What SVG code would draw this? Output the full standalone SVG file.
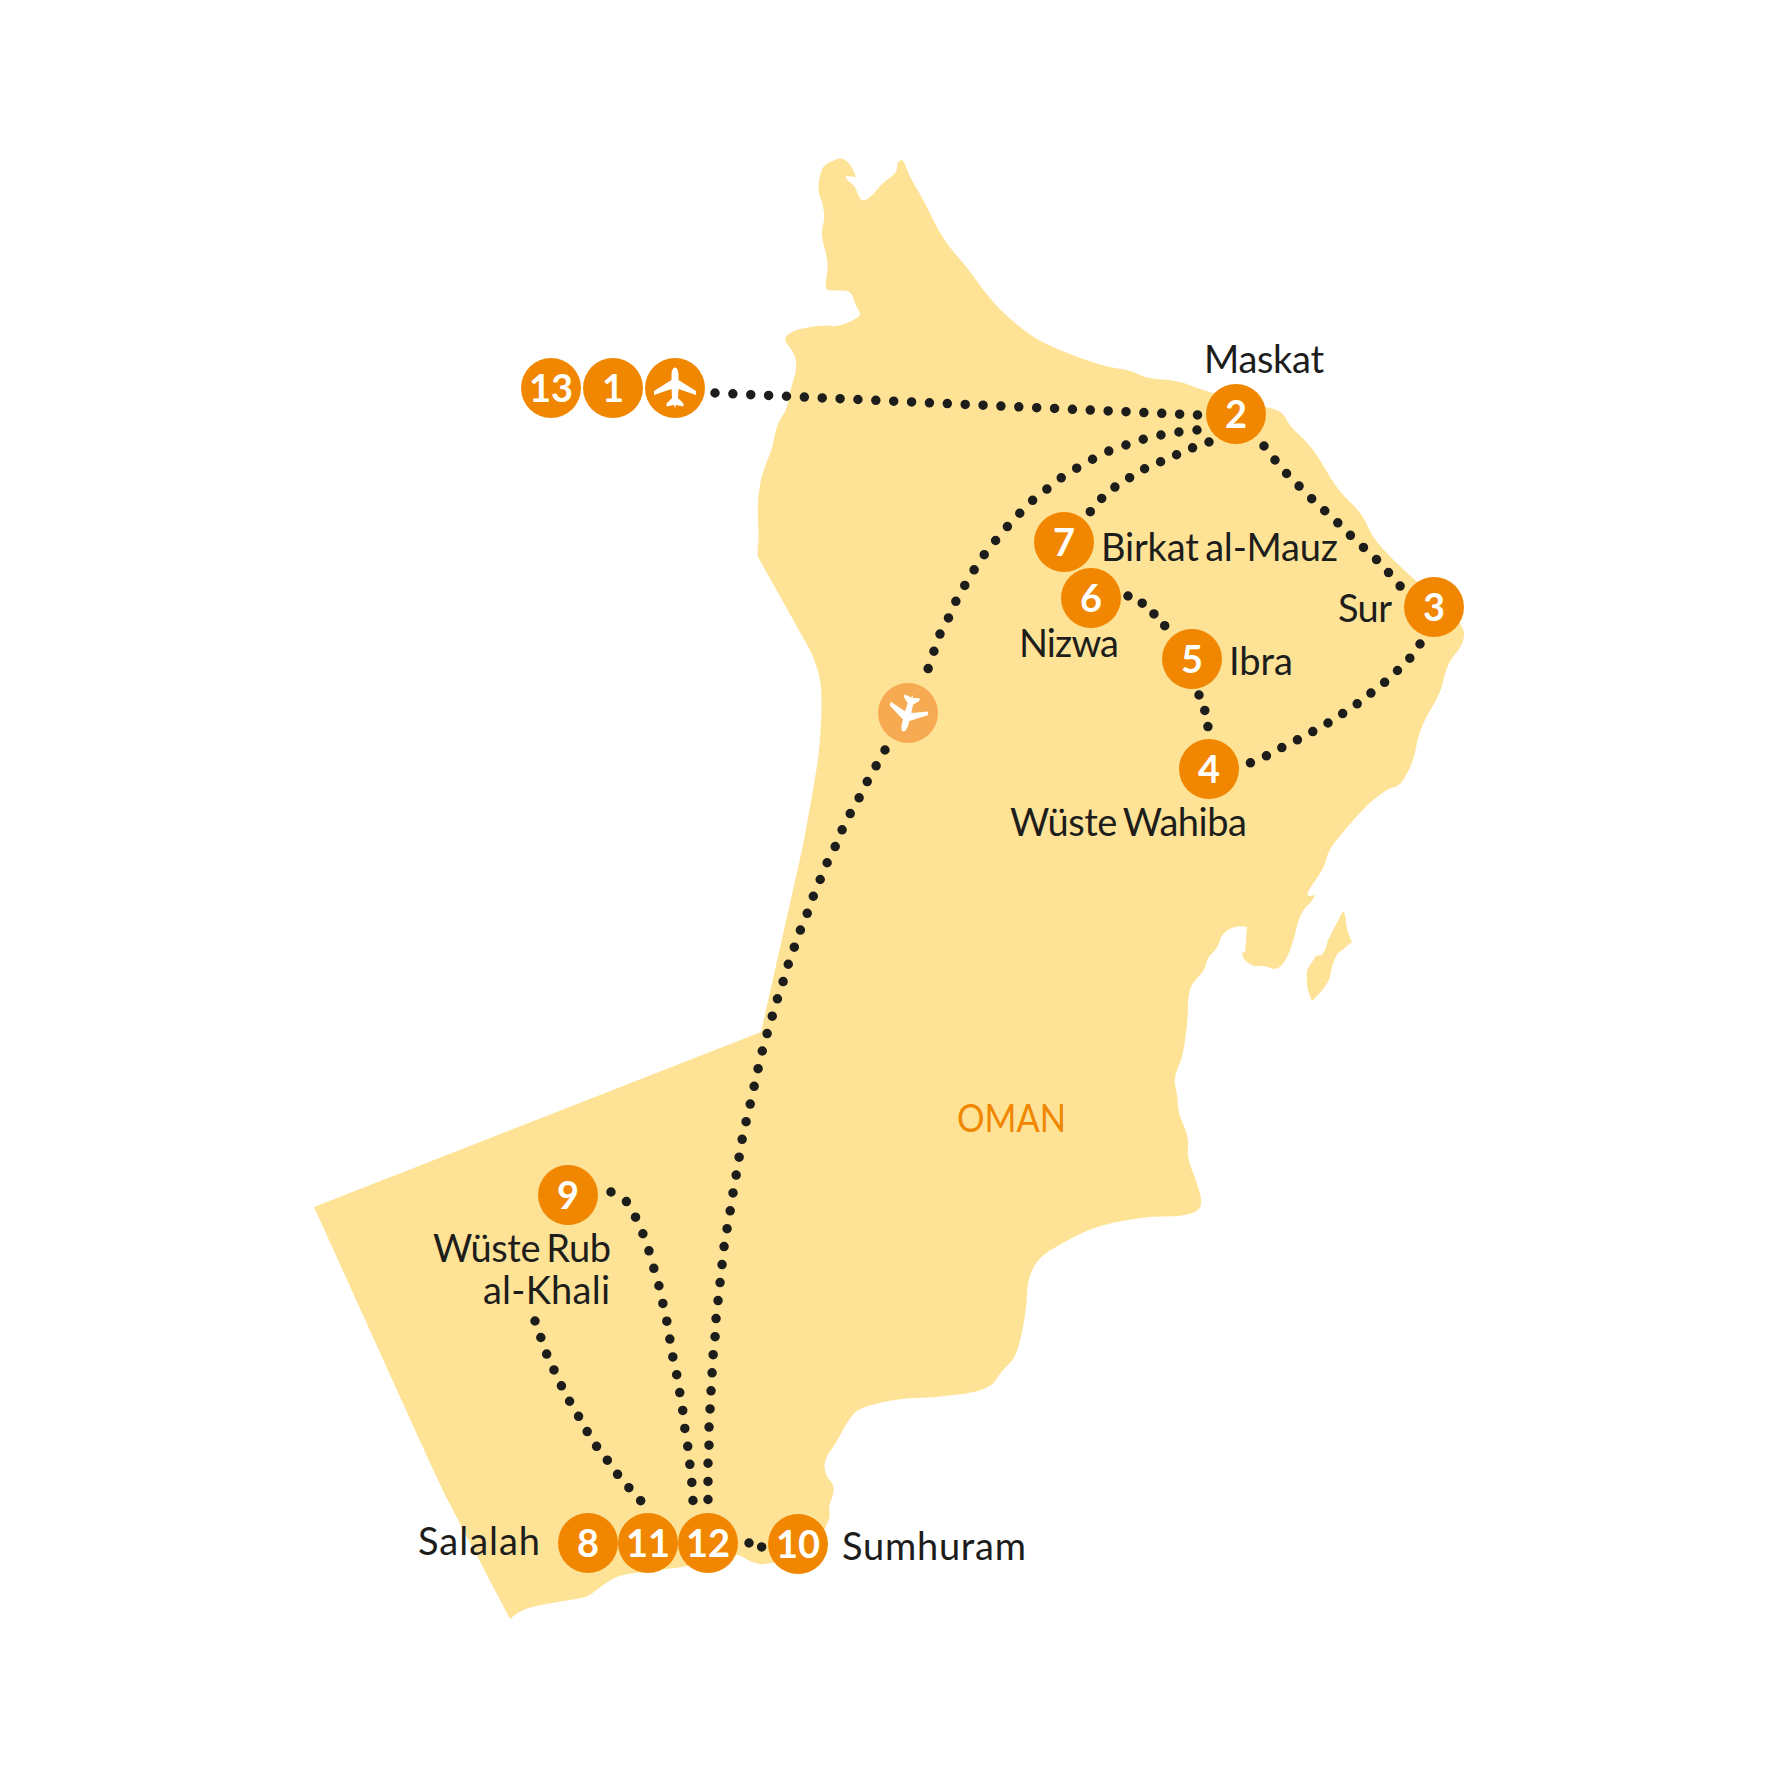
<svg xmlns="http://www.w3.org/2000/svg" xmlns:xlink="http://www.w3.org/1999/xlink" width="1778" height="1778" viewBox="0 0 1778 1778">
<style>
.land{fill:#fee397}
.route{fill:none;stroke:#1d1d1b;stroke-width:9.5;stroke-linecap:round;stroke-linejoin:round;stroke-dasharray:0 18}
.pin{fill:#f18700}
.pin-soft{fill:#f6ab52}
.num{font-family:"Lato","Open Sans",sans-serif;font-size:38px;font-weight:700;fill:#fff;text-anchor:middle}
.lbl{font-family:"Lato","Open Sans",sans-serif;font-size:38px;fill:#1d1d1b;word-spacing:-3px}
.region{font-family:"Lato","Open Sans",sans-serif;font-size:38px;font-kerning:none;fill:#f18700}
.plane{fill:#fff}
</style>
<defs>
<path id="plane" d="M0,-20.5C2,-20.5 3.5,-17 3.5,-13V-8L21,3V7L3.5,1L3,10L8.5,15.5V18.5L1,17L0,20L-1,17L-8.5,18.5V15.5L-3,10L-3.5,1L-21,7V3L-3.5,-8V-13C-3.5,-17 -2,-20.5 0,-20.5Z"/>
</defs>
<g id="map">
<path class="land" d="M314,1207L761,1032L802,850Q815,782 818.5,755Q821,730 821.5,710Q822,690 819.5,677.5Q817,665 810,650L758,557Q757,553 758,545Q759,537 758,518.5Q757,500 760,485Q763,470 767.5,460Q772,450 774.5,436.5Q777,423 782,416.5Q787,410 788.5,400Q790,390 793.5,380Q797,370 796,361.5Q795,353 789,346.5Q783,340 786.5,336Q790,332 798.5,329.5Q807,327 817.5,326Q828,325 832.5,326Q837,327 847.5,322.5Q858,318 859.5,315.5Q861,313 858,309Q855,305 853.5,299Q852,293 848.5,291.5Q845,290 836,290.5Q827,291 826,288Q825,285 827,274Q829,263 824.5,248Q820,233 823,225Q826,217 822,202Q816,190 820,176Q822,163 834,160.5Q840,157 845,160Q850,163 853,170Q855,174 856,177L846,176Q845,178 851,183Q855,186 857,192Q859,198 862,200Q865,201 869,198Q873,195 877.5,189Q882,183 889.5,178Q897,173 897,167.5Q897,162 900,160.5Q903,158 906.5,168Q910,178 916,187.5Q922,197 932.5,218.5Q943,240 955,253.5Q967,267 975,278.5Q983,290 991.5,300Q1000,310 1011.5,320Q1023,330 1033,336.5Q1043,343 1060,350Q1077,357 1092,362Q1107,367 1118.5,368.5Q1130,370 1139,374.5Q1148,379 1162.5,379.5Q1177,380 1192,386Q1207,392 1237,399.5Q1267,407 1275,409.5Q1283,412 1286.5,419.5Q1290,427 1301.5,437Q1313,447 1325,468.5Q1337,490 1349.5,501.5Q1362,513 1367,525Q1372,537 1382.5,548.5Q1393,560 1404,570Q1415,580 1439,601Q1466,626 1464,635Q1464,645 1453.5,656Q1446,667 1443.5,680Q1441,693 1431,709Q1421,725 1417,742.5Q1413,765 1406,775Q1401,787 1391,788Q1382,792 1367.5,805Q1353,820 1340.5,835Q1328,850 1326.5,858.5Q1325,867 1316,879.5Q1307,892 1307.5,894.5Q1308,897 1315,895Q1313,901 1306,907Q1300,913 1296,930Q1292,947 1287.5,956Q1283,965 1279,967.5Q1275,970 1269,967.5Q1263,965 1259,966Q1255,967 1249,963.5Q1243,960 1242,953L1245,952L1247,927Q1237,925 1229.5,929Q1222,933 1220,940.5Q1218,948 1212.5,953Q1207,958 1206,964Q1205,970 1198.5,976.5Q1192,983 1190,990Q1188,997 1188,1007Q1188,1017 1185.5,1037Q1183,1057 1178,1067.5Q1173,1078 1175.5,1087.5Q1178,1097 1178,1105Q1178,1113 1183.5,1125Q1189,1137 1188,1147.5Q1187,1158 1191,1167.5Q1195,1177 1199,1190Q1203,1203 1200,1207.5Q1197,1212 1187,1214.5Q1177,1217 1163.5,1216.5Q1150,1216 1125,1220.5Q1100,1225 1086.5,1231Q1073,1237 1056,1247Q1040,1255 1033.5,1267.5Q1027,1280 1027,1293.5Q1027,1307 1022,1332Q1017,1357 1009.5,1363.5Q1002,1370 995.5,1380.5Q989,1391 958.5,1394.5Q928,1398 915,1398Q902,1398 881.5,1402.5Q861,1407 855.5,1412Q850,1417 843,1430Q836,1443 830,1451.5Q824,1460 824.5,1467.5Q825,1475 830.5,1481Q836,1487 832,1497.5Q828,1508 829.5,1512.5Q831,1517 825,1528.5Q820,1540 805,1550Q790,1560 780,1561.5Q770,1563 765,1564Q760,1565 753.5,1562.5Q747,1560 742,1556.5Q737,1553 718,1559Q700,1565 666.5,1569Q633,1573 625,1574.5Q617,1576 608.5,1581.5Q600,1587 594,1592Q588,1597 579,1598.5Q570,1600 555,1602.5Q540,1605 530,1607.5Q520,1610 510,1619L445,1495L425,1452Z"/>
<path class="land" d="M1343,911Q1346,915 1346,923Q1347,932 1352,942Q1345,948 1338,953Q1332,962 1330,977Q1326,988 1312,1001Q1306,988 1307,980Q1306,972 1308,968L1316,956L1322,955Q1326,950 1328,940Z"/>
<text class="region" x="957" y="1132" textLength="109" lengthAdjust="spacingAndGlyphs">OMAN</text>
</g>
<g id="connectors">
<path class="route" pathLength="486.5" d="M715,393L1198,415"/>
<path class="route" pathLength="378.5" d="M1197,430L1179,432L1161,435L1144,439L1126,445L1109,451L1093,459L1077,468L1061,478L1047,489L1033,500L1020,513L1007,527L996,540L984,555L974,570L965,585L956,601L948,619L940,634L934,651L928,669"/>
<path class="route" pathLength="774.5" d="M885,750L876,766L867,782L859,798L850,814L842,830L835,847L827,863L820,880L813,897L807,914L800,931L794,948L788,965L783,982L777,1000L772,1017L767,1034L762,1052L758,1069L754,1087L750,1105L746,1122L742,1140L739,1158L736,1176L733,1193L730,1212L727,1229L724,1247L722,1265L720,1283L718,1301L716,1319L715,1338L713,1356L712,1374L711,1392L710,1410L709,1428L709,1446L708,1464L708,1482L708,1500"/>
<path class="route" pathLength="144.5" d="M1209,442L1192,448L1176,455L1160,462L1144,469L1129,478L1115,487L1101,499L1090,512"/>
<path class="route" pathLength="216.5" d="M1264,446L1275,460L1287,474L1299,486L1312,499L1325,511L1338,523L1350,535L1363,547L1376,559L1388,572L1400,586L1412,600"/>
<path class="route" pathLength="216.5" d="M1420,644L1410,658L1398,670L1385,682L1371,693L1357,704L1342,714L1328,723L1312,732L1297,740L1281,748L1266,756L1250,763"/>
<path class="route" pathLength="54.5" d="M1128,596L1142,603L1154,614L1165,626"/>
<path class="route" pathLength="36.5" d="M1199,695L1205,711L1208,727"/>
<path class="route" pathLength="324.5" d="M611,1192L627,1202L636,1218L643,1234L649,1251L654,1269L659,1286L663,1304L667,1322L670,1340L673,1358L677,1376L680,1394L683,1412L685,1430L688,1448L690,1466L692,1484L693,1501"/>
<path class="route" pathLength="216.5" d="M535,1321L541,1338L547,1355L554,1370L562,1387L570,1402L579,1417L588,1433L597,1447L608,1461L618,1475L630,1489L641,1501"/>
<path class="route" pathLength="18.5" d="M749,1543L762,1547"/>
</g>
<g id="node-13"><circle class="pin" cx="551" cy="388" r="30"/><text class="num" x="551" y="402">13</text></g>
<g id="node-1"><circle class="pin" cx="613" cy="388" r="30"/><text class="num" x="613" y="402">1</text></g>
<g id="node-plane-out"><circle class="pin" cx="675" cy="388" r="30"/><use class="plane" xlink:href="#plane" href="#plane" x="675" y="388"/></g>
<g id="node-plane-in"><circle class="pin-soft" cx="908" cy="713" r="30"/><use class="plane" href="#plane" xlink:href="#plane" transform="translate(908 713) rotate(194.5) scale(.93)"/></g>
<g id="node-2"><circle class="pin" cx="1236" cy="414" r="30"/><text class="num" x="1236" y="428">2</text><text class="lbl" x="1204" y="373" textLength="120">Maskat</text></g>
<g id="node-3"><circle class="pin" cx="1434" cy="607" r="30"/><text class="num" x="1434" y="621">3</text><text class="lbl" x="1338" y="622" textLength="54">Sur</text></g>
<g id="node-4"><circle class="pin" cx="1209" cy="769" r="30"/><text class="num" x="1209" y="783">4</text><text class="lbl" x="1010" y="836" textLength="237">Wüste Wahiba</text></g>
<g id="node-5"><circle class="pin" cx="1192" cy="659" r="30"/><text class="num" x="1192" y="673">5</text><text class="lbl" x="1229" y="675" textLength="64">Ibra</text></g>
<g id="node-7"><circle class="pin" cx="1064" cy="542" r="30"/><text class="num" x="1064" y="556">7</text><text class="lbl" x="1101" y="561" textLength="237">Birkat al-Mauz</text></g>
<g id="node-6"><circle class="pin" cx="1091" cy="598" r="30"/><text class="num" x="1091" y="612">6</text><text class="lbl" x="1019" y="657" textLength="100">Nizwa</text></g>
<g id="node-9"><circle class="pin" cx="568" cy="1195" r="30"/><text class="num" x="568" y="1209">9</text><text class="lbl" x="433" y="1262" textLength="178">Wüste Rub</text><text class="lbl" x="483" y="1304" textLength="127">al-Khali</text></g>
<g id="node-8"><circle class="pin" cx="588" cy="1543" r="30"/><text class="num" x="588" y="1557">8</text><text class="lbl" x="418" y="1555" textLength="122">Salalah</text></g>
<g id="node-11"><circle class="pin" cx="648" cy="1543" r="30"/><text class="num" x="648" y="1557">11</text></g>
<g id="node-12"><circle class="pin" cx="708" cy="1543" r="30"/><text class="num" x="708" y="1557">12</text></g>
<g id="node-10"><circle class="pin" cx="798" cy="1544" r="30"/><text class="num" x="798" y="1558">10</text><text class="lbl" x="842" y="1560" textLength="184">Sumhuram</text></g>
</svg>
